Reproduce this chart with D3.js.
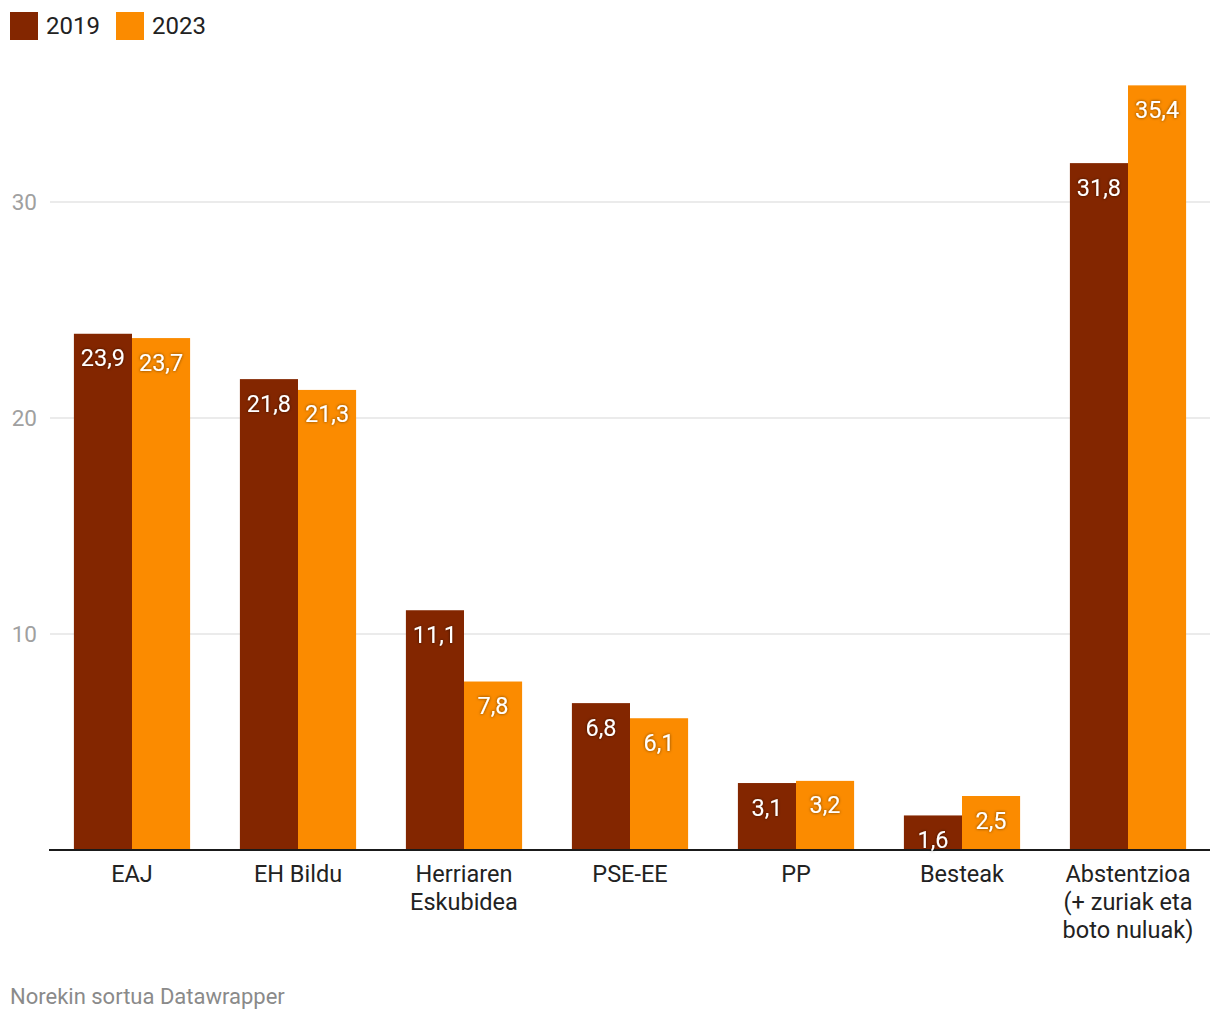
<!DOCTYPE html>
<html><head><meta charset="utf-8">
<script src="https://cdn.jsdelivr.net/npm/d3@7"></script>
<style>
body{margin:0;background:#fff;font-family:Roboto,"Noto Sans",sans-serif;}
</style></head>
<body><svg id="c" width="1220" height="1020"></svg>
<script>
const categories = ["EAJ","EH Bildu","Herriaren\nEskubidea","PSE-EE","PP","Besteak","Abstentzioa\n(+ zuriak eta\nboto nuluak)"];
const series = ["2019","2023"];
const values2019 = [23.9,21.8,11.1,6.8,3.1,1.6,31.8];
const values2023 = [23.7,21.3,7.8,6.1,3.2,2.5,35.4];
const yTicks = [10,20,30];
const colors = ["#832600","#fb8b00"];

const svg = d3.select("#c");
const x = d3.scaleBand().domain(categories).range([49,1211]).paddingInner(0.3).paddingOuter(0.15);
const xs = d3.scaleBand().domain(series).range([0,x.bandwidth()]);
const y = d3.scaleLinear().domain([0,30]).range([850,202]);

const defs = svg.append("defs");
const f = defs.append("filter").attr("id","sh").attr("x","-20%").attr("y","-20%").attr("width","140%").attr("height","140%");
f.append("feDropShadow").attr("dx",0).attr("dy",0).attr("stdDeviation",1.5).attr("flood-color","#000").attr("flood-opacity",0.6);

// grid
const grid = svg.append("g");
yTicks.forEach(t=>{
  grid.append("line").attr("x1",50).attr("x2",1210).attr("y1",y(t)).attr("y2",y(t)).attr("stroke","#e4e4e4").attr("stroke-width",1.5);
  grid.append("text").attr("x",37).attr("y",y(t)+8).attr("text-anchor","end").attr("fill","#a0a0a0").style("font-size","22.5px").text(t);
});

const data = [values2019, values2023];
const barsG = svg.append("g");
const axisG = svg.append("g");
const labelsG = svg.append("g");
categories.forEach((c,i)=>{
  series.forEach((s,j)=>{
    const v = data[j][i];
    const bx = x(c)+xs(s);
    barsG.append("rect").attr("x",bx).attr("y",y(v)).attr("width",xs.bandwidth()).attr("height",850-y(v)).attr("fill",colors[j]);
    labelsG.append("text").attr("x",bx+xs.bandwidth()/2).attr("y",y(v)+32.5).attr("text-anchor","middle")
      .attr("fill","#fff").attr("filter","url(#sh)").style("font-size","23.5px")
      .text(String(v.toFixed(1)).replace(".",","));
  });
  const lines = c.split("\n");
  const t = svg.append("text").attr("text-anchor","middle").attr("fill","#222").style("font-size","23.5px");
  lines.forEach((l,k)=>t.append("tspan").attr("x",x(c)+x.bandwidth()/2).attr("y",882+k*28).text(l));
});

axisG.append("line").attr("x1",49).attr("x2",1210).attr("y1",850).attr("y2",850).attr("stroke","#1a1a1a").attr("stroke-width",2);

// legend
const leg = [[10,46],[116,152]];
series.forEach((s,j)=>{
  svg.append("rect").attr("x",leg[j][0]).attr("y",12).attr("width",28).attr("height",28).attr("fill",colors[j]);
  svg.append("text").attr("x",leg[j][1]).attr("y",34).attr("fill","#222").style("font-size","24px").text(s);
});

svg.append("text").attr("x",10).attr("y",1004).attr("fill","#8a8a8a").style("font-size","22px").text("Norekin sortua Datawrapper");
</script></body></html>
